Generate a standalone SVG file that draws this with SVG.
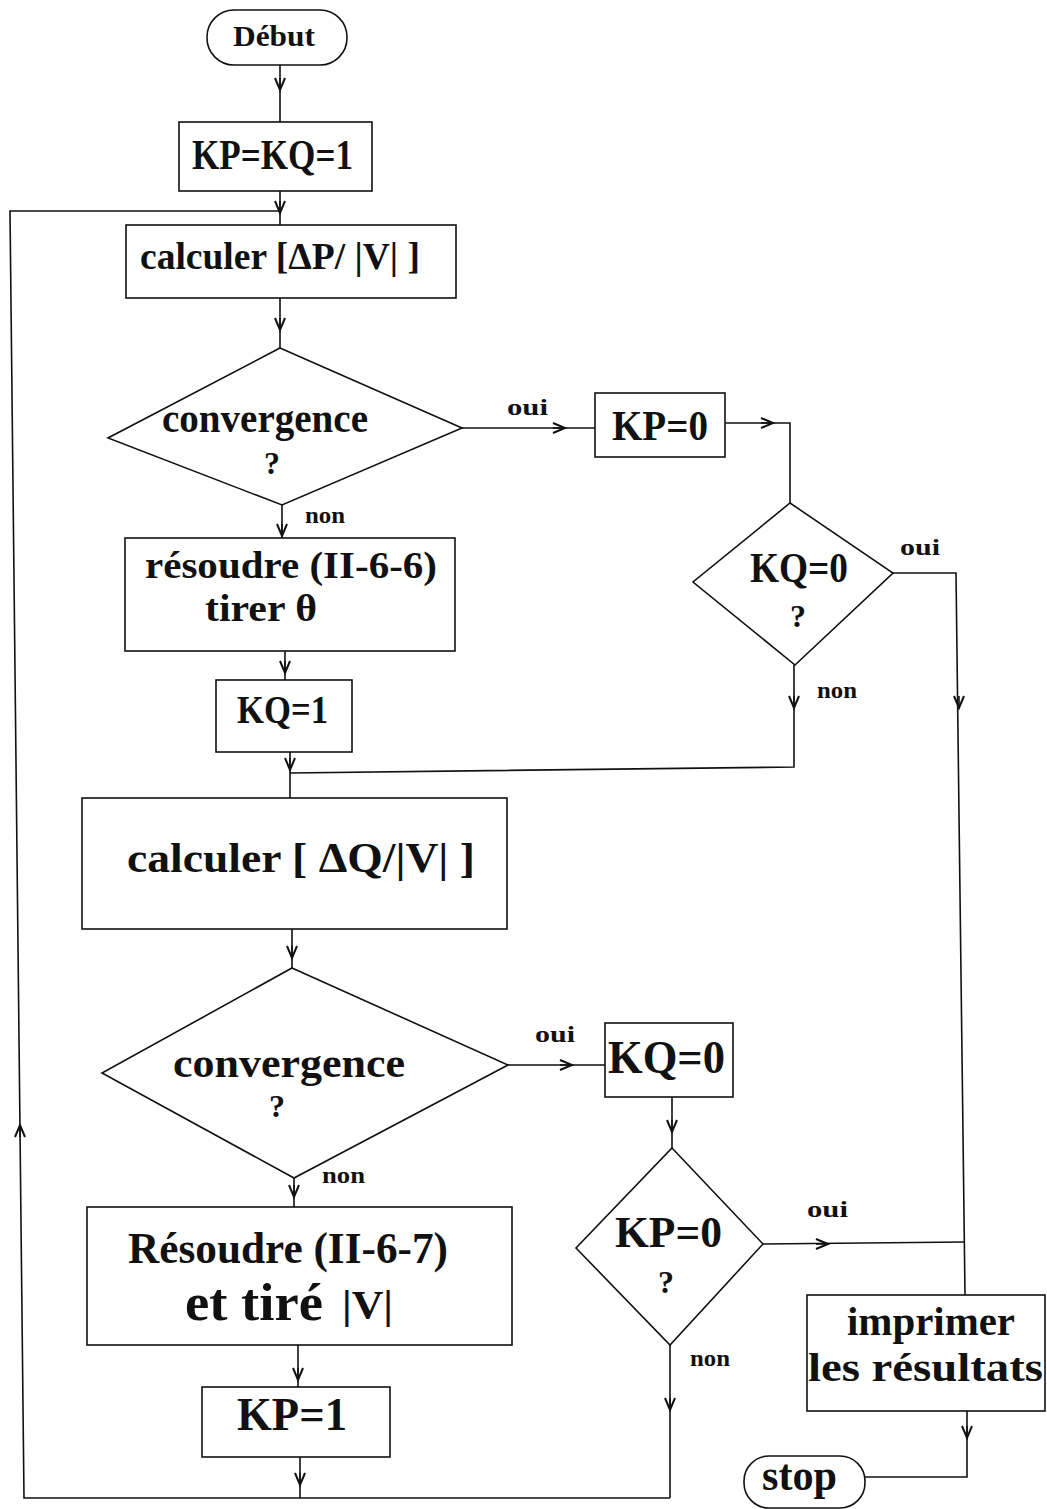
<svg xmlns="http://www.w3.org/2000/svg" width="1047" height="1509" viewBox="0 0 1047 1509">
<style>
  .shape { fill: none; stroke: #111; stroke-width: 1.6; }
  .conn path { fill: none; stroke: #111; stroke-width: 1.6; }
  .conn path.arr { marker-end: url(#ah); }
  text { font-family: "Liberation Serif", "Times New Roman", serif; font-weight: bold; fill: #111; }
  .lbl { font-size: 24px; }
  .q { font-size: 32px; text-anchor: middle; }
</style>
<defs>
  <marker id="ah" viewBox="0 0 14 12" markerWidth="14" markerHeight="12" refX="13" refY="6" orient="auto" markerUnits="userSpaceOnUse" overflow="visible">
    <path d="M1,1 L13,6 L1,11" fill="none" stroke="#111" stroke-width="2"/>
  </marker>
</defs>
<rect width="1047" height="1509" fill="#fff"/>

<g id="connectors" class="conn">
  <path d="M280,65 L280,122"/><path class="arr" d="M280,78 L280,90"/>
  <path d="M280,191 L280,225"/><path class="arr" d="M280,201 L280,213"/>
  <path d="M280,211 L10,211 L24,1498 L670,1498"/><path class="arr" d="M20,1137 L20,1125"/>
  <path d="M280,298 L280,348"/><path class="arr" d="M280,318 L280,330"/>
  <path d="M462,428 L595,428"/><path class="arr" d="M553,428 L565,428"/>
  <path d="M725,423 L790,423 L790,503"/><path class="arr" d="M761,423 L773,423"/>
  <path d="M893,573 L956,573 L965,1295"/><path class="arr" d="M959,696 L959,708"/>
  <path d="M794,665 L794,767 L290,773"/><path class="arr" d="M794,696 L794,708"/>
  <path d="M282,505 L282,538"/><path class="arr" d="M282,524 L282,536"/>
  <path d="M285,651 L285,680"/><path class="arr" d="M285,661 L285,673"/>
  <path d="M290,752 L290,798"/><path class="arr" d="M290,758 L290,770"/>
  <path d="M292,929 L292,968"/><path class="arr" d="M292,946 L292,958"/>
  <path d="M508,1065 L605,1065"/><path class="arr" d="M560,1065 L572,1065"/>
  <path d="M672,1097 L672,1148"/><path class="arr" d="M672,1120 L672,1132"/>
  <path d="M763,1244 L965,1242"/><path class="arr" d="M816,1244 L828,1244"/>
  <path d="M670,1345 L670,1498"/><path class="arr" d="M670,1398 L670,1410"/>
  <path d="M294,1178 L294,1207"/><path class="arr" d="M294,1185 L294,1197"/>
  <path d="M298,1345 L298,1387"/><path class="arr" d="M298,1368 L298,1380"/>
  <path d="M300,1457 L300,1498"/><path class="arr" d="M300,1473 L300,1485"/>
  <path d="M967,1411 L967,1477 L865,1477"/><path class="arr" d="M967,1426 L967,1438"/>
</g>

<g id="labels">
  <text class="lbl" x="507" y="415" textLength="41" lengthAdjust="spacingAndGlyphs">oui</text>
  <text class="lbl" x="900" y="555" textLength="40" lengthAdjust="spacingAndGlyphs">oui</text>
  <text class="lbl" x="817" y="698" textLength="40" lengthAdjust="spacingAndGlyphs">non</text>
  <text class="lbl" x="305" y="523" textLength="40" lengthAdjust="spacingAndGlyphs">non</text>
  <text class="lbl" x="535" y="1042" textLength="40" lengthAdjust="spacingAndGlyphs">oui</text>
  <text class="lbl" x="322" y="1183" textLength="43" lengthAdjust="spacingAndGlyphs">non</text>
  <text class="lbl" x="807" y="1217" textLength="41" lengthAdjust="spacingAndGlyphs">oui</text>
  <text class="lbl" x="690" y="1366" textLength="40" lengthAdjust="spacingAndGlyphs">non</text>
</g>

<g id="debut">
  <rect class="shape" x="207" y="10" width="140" height="55" rx="27"/>
  <text x="233" y="46" font-size="29" textLength="82" lengthAdjust="spacingAndGlyphs">Début</text>
</g>

<g id="init">
  <rect class="shape" x="179" y="122" width="193" height="69"/>
  <text x="192" y="169" font-size="42" textLength="161" lengthAdjust="spacingAndGlyphs">KP=KQ=1</text>
</g>

<g id="calcP">
  <rect class="shape" x="126" y="225" width="330" height="73"/>
  <text x="140" y="269" font-size="38" textLength="280" lengthAdjust="spacingAndGlyphs">calculer [ΔP/ |V| ]</text>
</g>

<g id="conv1">
  <polygon class="shape" points="280,348 462,428 282,505 108,438"/>
  <text x="162" y="432" font-size="42" textLength="206" lengthAdjust="spacingAndGlyphs">convergence</text>
  <text class="q" x="272" y="474">?</text>
</g>

<g id="kp0">
  <rect class="shape" x="595" y="393" width="130" height="64"/>
  <text x="612" y="440" font-size="42" textLength="96" lengthAdjust="spacingAndGlyphs">KP=0</text>
</g>

<g id="testKQ">
  <polygon class="shape" points="790,503 893,573 795,665 693,582"/>
  <text x="750" y="582" font-size="42" textLength="98" lengthAdjust="spacingAndGlyphs">KQ=0</text>
  <text class="q" x="798" y="627">?</text>
</g>

<g id="resoudreP">
  <rect class="shape" x="125" y="538" width="330" height="113"/>
  <text x="145" y="578" font-size="38" textLength="292" lengthAdjust="spacingAndGlyphs">résoudre (II-6-6)</text>
  <text x="205" y="621" font-size="38" textLength="112" lengthAdjust="spacingAndGlyphs">tirer  θ</text>
</g>

<g id="kq1">
  <rect class="shape" x="216" y="680" width="136" height="72"/>
  <text x="237" y="723" font-size="40" textLength="91" lengthAdjust="spacingAndGlyphs">KQ=1</text>
</g>

<g id="calcQ">
  <rect class="shape" x="82" y="798" width="425" height="131"/>
  <text x="127" y="872" font-size="42" textLength="348" lengthAdjust="spacingAndGlyphs">calculer [ ΔQ/|V| ]</text>
</g>

<g id="conv2">
  <polygon class="shape" points="292,968 508,1065 294,1178 102,1073"/>
  <text x="173" y="1077" font-size="42" textLength="232" lengthAdjust="spacingAndGlyphs">convergence</text>
  <text class="q" x="277" y="1117">?</text>
</g>

<g id="kq0">
  <rect class="shape" x="605" y="1023" width="128" height="74"/>
  <text x="608" y="1073" font-size="46" textLength="117" lengthAdjust="spacingAndGlyphs">KQ=0</text>
</g>

<g id="testKP">
  <polygon class="shape" points="672,1148 763,1244 670,1345 576,1248"/>
  <text x="615" y="1247" font-size="44" textLength="107" lengthAdjust="spacingAndGlyphs">KP=0</text>
  <text class="q" x="666" y="1293">?</text>
</g>

<g id="resoudreQ">
  <rect class="shape" x="87" y="1207" width="425" height="138"/>
  <text x="128" y="1263" font-size="44" textLength="320" lengthAdjust="spacingAndGlyphs">Résoudre (II-6-7)</text>
  <text x="185" y="1320" font-size="52" textLength="138" lengthAdjust="spacingAndGlyphs">et tiré</text>
  <text x="342" y="1318" font-size="40" textLength="51" lengthAdjust="spacingAndGlyphs">|V|</text>
</g>

<g id="kp1">
  <rect class="shape" x="202" y="1387" width="188" height="70"/>
  <text x="237" y="1430" font-size="46" textLength="110" lengthAdjust="spacingAndGlyphs">KP=1</text>
</g>

<g id="imprimer">
  <rect class="shape" x="807" y="1295" width="238" height="116"/>
  <text x="847" y="1335" font-size="40" textLength="168" lengthAdjust="spacingAndGlyphs">imprimer</text>
  <text x="808" y="1381" font-size="40" textLength="235" lengthAdjust="spacingAndGlyphs">les résultats</text>
</g>

<g id="stop">
  <rect class="shape" x="744" y="1456" width="121" height="52" rx="25"/>
  <text x="762" y="1490" font-size="44" textLength="75" lengthAdjust="spacingAndGlyphs">stop</text>
</g>
</svg>
